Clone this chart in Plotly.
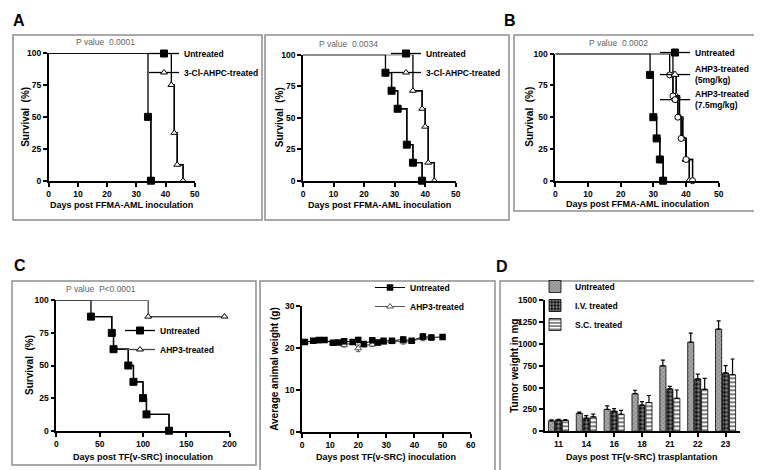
import plotly.graph_objects as go

W, H = 762, 470

# ---- data ----
# A (left): FFMA-AML, 3-Cl-AHPC
a1_untreated_days = [34, 35]
a1_untreated_surv = [50, 0]
a1_treated_days = [42, 43, 44, 46]
a1_treated_surv = [75, 37.5, 12.5, 0]

# A (right)
a2_untreated_days = [27, 29, 31, 34, 36, 39]
a2_untreated_surv = [85.7, 71.4, 57.1, 28.6, 14.3, 0]
a2_treated_days = [36, 39, 40, 41, 43]
a2_treated_surv = [71.4, 57.1, 42.9, 14.3, 0]

# B: AHP3
b_untreated_days = [29, 30, 31, 32, 33]
b_untreated_surv = [83.3, 50, 33.3, 16.7, 0]
b_5mg_days = [36, 37, 38, 39, 40, 41]
b_5mg_surv = [83.3, 66.7, 50, 33.3, 16.7, 0]
b_75mg_days = [35, 36, 37.5, 38.5, 40, 42]
b_75mg_surv = [83.3, 66.7, 50, 33.3, 16.7, 0]

# C (left): TF(v-SRC) survival
c1_untreated_days = [40, 64, 66, 83, 89, 100, 104, 130]
c1_untreated_surv = [87.5, 75, 62.5, 50, 37.5, 25, 12.5, 0]
c1_treated_days = [106, 194]
c1_treated_surv = [87.5, 87.5]

# C (right): body weight
w_untreated_days = [1, 4, 6, 8, 11, 13, 15, 18, 20, 22, 25, 27, 29, 32, 36, 39, 43, 46, 50]
w_untreated = [21.5, 21.8, 22.0, 22.0, 21.3, 21.4, 21.7, 21.5, 22.0, 21.0, 21.9, 21.4, 21.8,
               21.8, 22.1, 21.8, 22.8, 22.6, 22.7]
w_untreated_err = [0.3, 0.3, 0.5, 0.4, 0.4, 0.3, 0.5, 0.4, 0.6, 0.5, 0.5, 0.4, 0.4, 0.5, 0.6,
                   0.4, 0.6, 0.5, 0.3]
w_treated_days = [1, 4, 6, 8, 11, 13, 15, 18, 20, 22, 25, 27, 29, 32, 36, 39, 43, 46]
w_treated = [21.5, 21.6, 21.7, 21.9, 21.2, 21.3, 20.8, 21.3, 20.0, 20.8, 20.9, 21.2, 21.3,
             21.6, 21.6, 21.7, 22.4, 22.5]
w_treated_err = [0.3, 0.3, 0.4, 0.4, 0.4, 0.4, 0.5, 0.4, 0.8, 0.5, 0.5, 0.4, 0.4, 0.5, 0.6,
                 0.4, 0.6, 0.5]

# D: tumour weight
d_days = ['11', '14', '16', '18', '21', '22', '23']
d_untreated = [120, 205, 250, 430, 750, 1020, 1170]
d_untreated_err = [10, 15, 40, 40, 65, 105, 95]
d_iv = [130, 150, 230, 300, 485, 600, 668]
d_iv_err = [8, 30, 30, 40, 30, 55, 85]
d_sc = [125, 165, 195, 330, 378, 481, 648]
d_sc_err = [10, 32, 45, 80, 95, 125, 180]

SANS = 'Liberation Sans, Arial'


def fx(p):
    return p / W


def fy(p):
    return 1 - p / H


fig = go.Figure()


def setup_axes(n, x0, x1, ytop, ybot, xrange, xdtick, yrange, ydtick, xtitle, ytitle,
               xtitle_y, ytitle_x, xcat=False):
    key = '' if n == 1 else str(n)
    tickfont = dict(family=SANS, size=8.5, color='black', weight='bold')
    common = dict(showline=True, linecolor='black', linewidth=1.6, ticks='outside', ticklen=4,
                  tickwidth=1.5, tickcolor='black', showgrid=False, zeroline=False,
                  tickfont=tickfont, automargin=False)
    xa = dict(common, domain=[fx(x0), fx(x1)], anchor='y' + key, range=xrange)
    if xcat:
        xa['type'] = 'category'
    else:
        xa['dtick'] = xdtick
    ya = dict(common, domain=[fy(ybot), fy(ytop)], anchor='x' + key, range=yrange, dtick=ydtick)
    fig.update_layout(**{'xaxis' + key: xa, 'yaxis' + key: ya})
    # axis titles placed as paper annotations
    fig.add_annotation(x=fx((x0 + x1) / 2), y=fy(xtitle_y), xref='paper', yref='paper',
                       text=xtitle, showarrow=False, xanchor='center', yanchor='middle',
                       font=dict(family=SANS, size=9, color='black', weight='bold'))
    fig.add_annotation(x=fx(ytitle_x), y=fy((ytop + ybot) / 2), xref='paper', yref='paper',
                       text=ytitle, showarrow=False, xanchor='center', yanchor='middle',
                       textangle=-90,
                       font=dict(family=SANS, size=10, color='black', weight='bold'))


def km(n, days, surv, name, symbol, fill, legend, size=7, lcolor='black'):
    key = '' if n == 1 else str(n)
    fig.add_trace(go.Scatter(
        x=[0] + days, y=[100] + surv, mode='lines', xaxis='x' + key, yaxis='y' + key,
        line=dict(color=lcolor, width=1.3, shape='hv'), showlegend=False, hoverinfo='skip',
        cliponaxis=False))
    fig.add_trace(go.Scatter(
        x=days, y=surv, mode='lines+markers', name=name, xaxis='x' + key, yaxis='y' + key,
        line=dict(color=lcolor, width=1.3, shape='hv'),
        marker=dict(symbol=symbol, size=size, color=fill, line=dict(color='black', width=1)),
        legend=legend, cliponaxis=False))


# axes
setup_axes(1, 40.7, 186.7, 45, 172.7, [0, 50], 10, [0, 100], 25,
           'Days post FFMA-AML inoculation', 'Survival  (%)', 197, 18)
setup_axes(2, 295, 447.7, 46.7, 172.7, [0, 50], 10, [0, 100], 25,
           'Days post FFMA-AML inoculation', 'Survival  (%)', 197, 271.5)
setup_axes(3, 547.3, 710.7, 45.7, 172.7, [0, 50], 10, [0, 100], 25,
           'Days post FFMA-AML inoculation', 'Survival  (%)', 196.5, 521.5)
setup_axes(4, 48.3, 221.7, 292.3, 422.7, [0, 200], 50, [0, 100], 25,
           'Days post TF(v-SRC) inoculation', 'Survival  (%)', 449, 21.5)
setup_axes(5, 294, 462.7, 298.3, 424.3, [0, 60], 10, [0, 30], 10,
           'Days post TF(v-SRC) inoculation', 'Average animal weight (g)', 449, 266.5)
setup_axes(6, 536.5, 731.5, 292.3, 423.3, [-0.5, 6.5], None, [0, 1500], 250,
           'Days post TF(v-SRC) trasplantation', 'Tumor weight in mg', 449, 507, xcat=True)

# survival curves
km(1, a1_untreated_days, a1_untreated_surv, 'Untreated', 'square', 'black', 'legend')
km(1, a1_treated_days, a1_treated_surv, '3-Cl-AHPC-treated', 'triangle-up', 'white', 'legend', 6)
km(2, a2_untreated_days, a2_untreated_surv, 'Untreated', 'square', 'black', 'legend2')
km(2, a2_treated_days, a2_treated_surv, '3-Cl-AHPC-treated', 'triangle-up', 'white', 'legend2', 6)
km(3, b_untreated_days, b_untreated_surv, 'Untreated', 'square', 'black', 'legend3')
km(3, b_5mg_days, b_5mg_surv, 'AHP3-treated<br>(5mg/kg)', 'triangle-up', 'white', 'legend3', 7)
km(3, b_75mg_days, b_75mg_surv, 'AHP3-treated<br>(7.5mg/kg)', 'circle', 'white', 'legend3', 6)
km(4, c1_untreated_days, c1_untreated_surv, 'Untreated', 'square', 'black', 'legend4')
km(4, c1_treated_days, c1_treated_surv, 'AHP3-treated', 'triangle-up', 'white', 'legend4', 6,
   lcolor='#444')

# body weight
fig.add_trace(go.Scatter(
    x=w_treated_days, y=w_treated, name='AHP3-treated', mode='lines+markers',
    xaxis='x5', yaxis='y5', legend='legend5',
    line=dict(color='#555', width=1),
    marker=dict(symbol='triangle-up', size=6, color='white', line=dict(color='#555', width=1)),
    error_y=dict(type='data', array=w_treated_err, color='#555', thickness=1, width=2)))
fig.add_trace(go.Scatter(
    x=w_untreated_days, y=w_untreated, name='Untreated', mode='lines+markers',
    xaxis='x5', yaxis='y5', legend='legend5',
    line=dict(color='black', width=1),
    marker=dict(symbol='square', size=6.5, color='black'),
    error_y=dict(type='data', array=w_untreated_err, color='black', thickness=1, width=2)))

# tumour weight bars
bar_specs = [
    ('Untreated', d_untreated, d_untreated_err,
     dict(shape='x', bgcolor='#a8a8a8', fgcolor='#3a3a3a', size=3, solidity=0.3)),
    ('I.V. treated', d_iv, d_iv_err,
     dict(shape='.', bgcolor='black', fgcolor='white', size=4, solidity=0.55)),
    ('S.C. treated', d_sc, d_sc_err,
     dict(shape='-', bgcolor='white', fgcolor='black', size=4, solidity=0.5)),
]
for name, vals, err, pat in bar_specs:
    fig.add_trace(go.Bar(
        x=d_days, y=vals, name=name, xaxis='x6', yaxis='y6', legend='legend6',
        marker=dict(color=pat['bgcolor'], pattern=pat, line=dict(color='black', width=0.8)),
        error_y=dict(type='data', array=err, arrayminus=[0] * len(err), symmetric=False,
                     color='black', thickness=1.2, width=2)))

# legends: position given as (text start, first item centre) in pixels
legfont = dict(family=SANS, size=8.5, color='black', weight='bold')


def leg(text_x, first_y, **kw):
    d = dict(x=fx(text_x - 50), y=fy(first_y - 22), xanchor='left', yanchor='top',
             xref='paper', yref='paper', bgcolor='rgba(0,0,0,0)', font=legfont,
             itemwidth=30, tracegroupgap=0)
    d.update(kw)
    return d


fig.update_layout(
    legend=leg(186, 53),
    legend2=leg(428, 53),
    legend3=leg(697, 52),
    legend4=leg(162, 330),
    legend5=leg(412, 287, traceorder='reversed'),
    legend6=leg(577, 286),
)

# p values
pfont = dict(family=SANS, size=8.5, color='#666')
for n, xv, txt in [(1, 19.3, 'P value  0.0001'), (2, 15, 'P value  0.0034'),
                   (3, 19.2, 'P value  0.0002'), (4, 52, 'P value  P<0.0001')]:
    key = '' if n == 1 else str(n)
    fig.add_annotation(x=xv, y=100, xref='x' + key, yref='y' + key, text=txt, showarrow=False,
                       yanchor='bottom', font=pfont, yshift=4)

# panel letters
for lx, ly, letter in [(11, 13, 'A'), (502, 13, 'B'), (12, 257, 'C'), (494, 258, 'D')]:
    fig.add_annotation(x=fx(lx), y=fy(ly), xref='paper', yref='paper', text=letter,
                       xanchor='center', yanchor='middle', showarrow=False,
                       font=dict(family=SANS, size=16, color='black', weight='bold'))

# panel frames
for x0, y0, x1, y1 in [(5, 27, 254, 212), (257, 27, 501, 212), (506, 27, 757, 203),
                       (4, 273, 248, 457), (252, 273, 487, 463), (492, 273, 757, 465)]:
    fig.add_shape(type='rect', xref='paper', yref='paper', x0=fx(x0), x1=fx(x1), y0=fy(y1),
                  y1=fy(y0), line=dict(color='#8f8f8f', width=1.5))

fig.update_layout(
    width=W, height=H, autosize=False,
    margin=dict(l=0, r=0, t=0, b=0),
    paper_bgcolor='white', plot_bgcolor='white',
    barmode='group', bargap=0.25, bargroupgap=0.12,
    font=dict(family=SANS, color='black'),
)

fig.write_html('out.html')
